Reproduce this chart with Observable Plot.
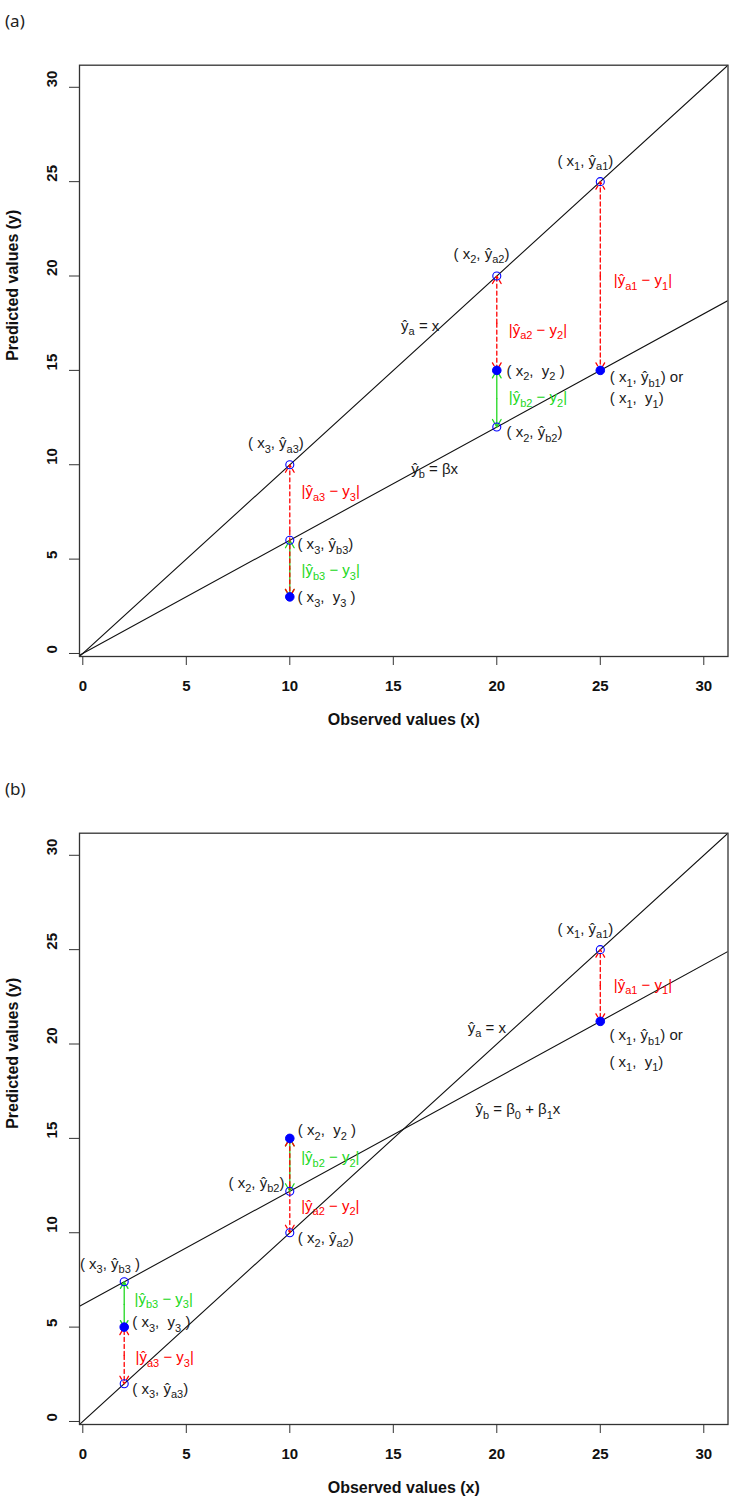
<!DOCTYPE html>
<html><head><meta charset="utf-8">
<script src="https://cdn.jsdelivr.net/npm/d3@7"></script>
<script src="https://cdn.jsdelivr.net/npm/@observablehq/plot@0.6"></script>
<style>
body{margin:0;background:#fff;width:733px;height:1505px;position:relative;overflow:hidden}
.panel{position:absolute;left:0;width:733px}
.tag{position:absolute;left:5px;font-family:"Noto Sans",sans-serif;font-size:17px;color:#222;line-height:23px}
</style></head><body>
<div id="pa" class="panel" style="top:0"></div>
<div id="pb" class="panel" style="top:768px"></div>
<div class="tag" style="top:9px">(a)</div>
<div class="tag" style="top:777px">(b)</div>
<script>
// ---------- shared ----------
const xTicks = [0, 5, 10, 15, 20, 25, 30];
const yTicks = [0, 5, 10, 15, 20, 25, 30];
const axisDomain = [-0.16, 31.17];
const xTitle = "Observed values (x)";
const yTitle = "Predicted values (y)";
const RED = "#ff0000", GREEN = "#22d822", BLUE = "#0000ff", INK = "#1a1a1a";

// ---------- panel (a) ----------
const aLines = [{slope: 1, intercept: 0}, {slope: 0.6, intercept: 0}];
const aOpen = [{x: 25, y: 25}, {x: 20, y: 20}, {x: 10, y: 10}, {x: 20, y: 12}, {x: 10, y: 6}];
const aFilled = [{x: 25, y: 15}, {x: 20, y: 15}, {x: 10, y: 3}];
const aRed = [{x: 25, y1: 25, y2: 15}, {x: 20, y1: 20, y2: 15}, {x: 10, y1: 10, y2: 3}];
const aGreen = [{x: 20, y1: 15, y2: 12}, {x: 10, y1: 6, y2: 3}];
const aLabels = [
  {x: 24.28, y: 26.1, t: "( x_{1}, ^y_{a1})", a: "middle", c: INK},
  {x: 19.26, y: 21.18, t: "( x_{2}, ^y_{a2})", a: "middle", c: INK},
  {x: 9.33, y: 11.13, t: "( x_{3}, ^y_{a3})", a: "middle", c: INK},
  {x: 10.37, y: 5.77, t: "( x_{3}, ^y_{b3})", a: "start", c: INK},
  {x: 10.37, y: 2.98, t: "( x_{3},  y_{3} )", a: "start", c: INK},
  {x: 20.47, y: 14.97, t: "( x_{2},  y_{2} )", a: "start", c: INK},
  {x: 20.47, y: 11.7, t: "( x_{2}, ^y_{b2})", a: "start", c: INK},
  {x: 25.46, y: 14.62, t: "( x_{1}, ^y_{b1}) or", a: "start", c: INK},
  {x: 25.46, y: 13.51, t: "( x_{1},  y_{1})", a: "start", c: INK},
  {x: 16.3, y: 17.35, t: "^y_{a} = x", a: "middle", c: INK},
  {x: 17.0, y: 9.79, t: "^y_{b} = βx", a: "middle", c: INK},
  {x: 25.65, y: 19.77, t: "|^y_{a1} − y_{1}|", a: "start", c: RED},
  {x: 20.58, y: 17.13, t: "|^y_{a2} − y_{2}|", a: "start", c: RED},
  {x: 10.57, y: 8.59, t: "|^y_{a3} − y_{3}|", a: "start", c: RED},
  {x: 20.58, y: 13.56, t: "|^y_{b2} − y_{2}|", a: "start", c: GREEN},
  {x: 10.57, y: 4.39, t: "|^y_{b3} − y_{3}|", a: "start", c: GREEN}
];

// ---------- panel (b) ----------
const bLines = [{slope: 1, intercept: 0}, {slope: 0.6, intercept: 6.2}];
const bOpen = [{x: 25, y: 25}, {x: 10, y: 12.2}, {x: 10, y: 10}, {x: 2, y: 7.4}, {x: 2, y: 2}];
const bFilled = [{x: 25, y: 21.2}, {x: 10, y: 15}, {x: 2, y: 5}];
const bRed = [{x: 25, y1: 25, y2: 21.2}, {x: 10, y1: 15, y2: 10}, {x: 2, y1: 5, y2: 2}];
const bGreen = [{x: 10, y1: 15, y2: 12.2}, {x: 2, y1: 7.4, y2: 5}];
const bLabels = [
  {x: 24.28, y: 26.1, t: "( x_{1}, ^y_{a1})", a: "middle", c: INK},
  {x: 25.65, y: 23.12, t: "|^y_{a1} − y_{1}|", a: "start", c: RED},
  {x: 25.44, y: 20.46, t: "( x_{1}, ^y_{b1}) or", a: "start", c: INK},
  {x: 25.44, y: 19.05, t: "( x_{1},  y_{1})", a: "start", c: INK},
  {x: 19.52, y: 20.86, t: "^y_{a} = x", a: "middle", c: INK},
  {x: 21.02, y: 16.54, t: "^y_{b} = β_{0} + β_{1}x", a: "middle", c: INK},
  {x: 10.39, y: 15.43, t: "( x_{2},  y_{2} )", a: "start", c: INK},
  {x: 10.55, y: 13.98, t: "|^y_{b2} − y_{2}|", a: "start", c: GREEN},
  {x: 9.74, y: 12.63, t: "( x_{2}, ^y_{b2})", a: "end", c: INK},
  {x: 10.55, y: 11.43, t: "|^y_{a2} − y_{2}|", a: "start", c: RED},
  {x: 10.39, y: 9.72, t: "( x_{2}, ^y_{a2})", a: "start", c: INK},
  {x: 1.31, y: 8.34, t: "( x_{3}, ^y_{b3} )", a: "middle", c: INK},
  {x: 2.50, y: 6.49, t: "|^y_{b3} − y_{3}|", a: "start", c: GREEN},
  {x: 2.39, y: 5.25, t: "( x_{3},  y_{3} )", a: "start", c: INK},
  {x: 2.55, y: 3.40, t: "|^y_{a3} − y_{3}|", a: "start", c: RED},
  {x: 2.39, y: 1.73, t: "( x_{3}, ^y_{a3})", a: "start", c: INK}
];

// ---------- helpers ----------
function halves(arr) {
  return arr.flatMap(d => [
    {x: d.x, ym: (d.y1 + d.y2) / 2, ye: d.y1},
    {x: d.x, ym: (d.y1 + d.y2) / 2, ye: d.y2}
  ]);
}
function richify(svg) {
  const NS = "http://www.w3.org/2000/svg";
  Array.from(svg.querySelectorAll("text")).forEach(el => {
    const s = el.textContent;
    if (!(s.includes("_{") || s.includes("^y"))) return;
    while (el.firstChild) el.removeChild(el.firstChild);
    el.style.whiteSpace = "pre";
    const parts = [];
    let i = 0;
    while (i < s.length) {
      if (s.startsWith("_{", i)) {
        const j = s.indexOf("}", i);
        parts.push({t: s.slice(i + 2, j), sub: true});
        i = j + 1;
      } else if (s.startsWith("^y", i)) {
        parts.push({t: "ŷ", sub: false});
        i += 2;
      } else {
        let j = i;
        while (j < s.length && !s.startsWith("_{", j) && !s.startsWith("^y", j)) j++;
        parts.push({t: s.slice(i, j), sub: false});
        i = j;
      }
    }
    let cur = 0;
    for (const p of parts) {
      const ts = document.createElementNS(NS, "tspan");
      const target = p.sub ? 4.5 : 0;
      if (target !== cur) ts.setAttribute("dy", target - cur);
      cur = target;
      if (p.sub) ts.setAttribute("font-size", "11px");
      ts.textContent = p.t;
      el.appendChild(ts);
    }
  });
}

function panel(el, cfg) {
  const lineData = cfg.lines.flatMap((l, i) => axisDomain.map(x => ({id: i, x, y: l.intercept + l.slope * x})));
  const labelMarks = ["start", "middle", "end"].map(anchor =>
    Plot.text(cfg.labels.filter(d => d.a === anchor), {
      x: "x", y: "y", text: "t", fill: "c", textAnchor: anchor, fontSize: 15
    })
  );
  const chart = Plot.plot({
    width: 733, height: 737,
    marginLeft: 79, marginRight: 5.5, marginTop: 64.7, marginBottom: 81,
    x: {domain: axisDomain},
    y: {domain: axisDomain},
    color: {type: "identity"},
    style: {fontFamily: "'Liberation Sans', Arial, sans-serif", fontSize: "14px", background: "white", color: "#111"},
    marks: [
      Plot.line(lineData, {x: "x", y: "y", z: "id", stroke: "#111", strokeWidth: 1.1, clip: true}),
      Plot.arrow(halves(cfg.green), {x1: "x", y1: "ym", x2: "x", y2: "ye", stroke: GREEN, strokeWidth: 1.3, headLength: 10, headAngle: 60}),
      Plot.arrow(halves(cfg.red), {x1: "x", y1: "ym", x2: "x", y2: "ye", stroke: RED, strokeWidth: 1.3, strokeDasharray: "4,3", headLength: 10, headAngle: 60}),
      Plot.dot(cfg.open, {x: "x", y: "y", r: 4, stroke: BLUE, strokeWidth: 1.1, fill: "none"}),
      Plot.dot(cfg.filled, {x: "x", y: "y", r: 4.3, fill: BLUE, stroke: BLUE, strokeWidth: 1}),
      Plot.frame({stroke: "#333", strokeWidth: 1.3}),
      Plot.axisX(xTicks, {tickSize: 9, tickPadding: 15, fontWeight: "bold", fontSize: 15, label: null, stroke: "#333"}),
      Plot.axisY(yTicks, {tickSize: 10, tickFormat: () => "", label: null, stroke: "#333"}),
      Plot.text(yTicks, {y: d => d, frameAnchor: "left", dx: -27, rotate: -90, text: d => String(d), fontWeight: "bold", fontSize: 15}),
      Plot.text([xTitle], {frameAnchor: "bottom", dy: 68, text: d => d, fontWeight: "bold", fontSize: 16}),
      Plot.text([yTitle], {frameAnchor: "left", dx: -67, rotate: -90, text: d => d, fontWeight: "bold", fontSize: 16}),
      ...labelMarks
    ]
  });
  richify(chart);
  el.appendChild(chart);
}

panel(document.getElementById("pa"), {lines: aLines, open: aOpen, filled: aFilled, red: aRed, green: aGreen, labels: aLabels});
panel(document.getElementById("pb"), {lines: bLines, open: bOpen, filled: bFilled, red: bRed, green: bGreen, labels: bLabels});
</script>
</body></html>
